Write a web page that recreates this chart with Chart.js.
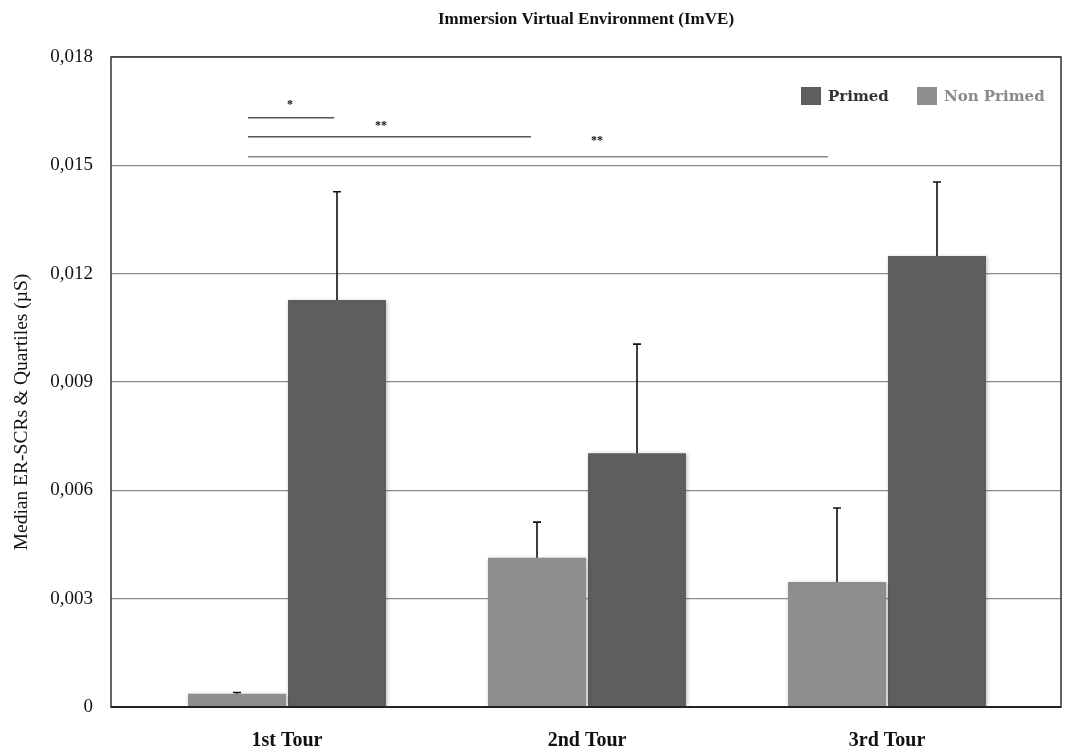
<!DOCTYPE html>
<html><head><meta charset="utf-8">
<script src="https://cdn.jsdelivr.net/npm/chart.js@4/dist/chart.umd.min.js"></script>
<style>html,body{margin:0;padding:0;background:#fff}canvas{display:block}</style>
</head><body>
<canvas id="c" width="1067" height="750"></canvas>
<script>
// ---- data ----
const categories = ['1st Tour', '2nd Tour', '3rd Tour'];
const seriesNames = ['Non Primed', 'Primed'];
const nonPrimed = [0.00037, 0.00413, 0.00346];
const nonPrimedUpper = [0.00040, 0.00512, 0.00551];
const primed = [0.01127, 0.00703, 0.01249];
const primedUpper = [0.01427, 0.01005, 0.01454];
const yTicks = [0, 0.003, 0.006, 0.009, 0.012, 0.015, 0.018];
const yTickLabels = ['0', '0,003', '0,006', '0,009', '0,012', '0,015', '0,018'];
const chartTitle = 'Immersion Virtual Environment (ImVE)';
const yTitle = 'Median ER-SCRs & Quartiles (µS)';
// significance brackets (x in category units, y in data units)
const sigFrom = [-0.13, -0.13, -0.13];
const sigTo = [0.157, 0.813, 1.803];
const sigY = [0.01632, 0.01579, 0.01524];
const sigLabel = ['*', '**', '**'];
const sigLabelX = [0.01, 0.313, 1.033];
const sigLabelY = [0.01667, 0.01609, 0.01567];

const COL_PRIMED = '#5e5e5e';
const COL_NON = '#8e8e8e';

const upperBounds = [nonPrimedUpper, primedUpper];

const extras = {
  id: 'extras',
  beforeDatasetsDraw(chart) {
    const ctx = chart.ctx;
    ctx.save();
    ctx.shadowColor = 'rgba(0,0,0,0.28)';
    ctx.shadowBlur = 4;
    ctx.shadowOffsetX = 1;
    ctx.shadowOffsetY = 1;
  },
  afterDatasetsDraw(chart) {
    const ctx = chart.ctx;
    ctx.restore();
    const ys = chart.scales.y;
    // error bars
    ctx.save();
    ctx.strokeStyle = '#111';
    ctx.lineWidth = 1.6;
    chart.data.datasets.forEach((ds, di) => {
      const meta = chart.getDatasetMeta(di);
      meta.data.forEach((bar, i) => {
        const top = ys.getPixelForValue(upperBounds[di][i]);
        ctx.beginPath();
        ctx.moveTo(bar.x, bar.y);
        ctx.lineTo(bar.x, top);
        ctx.moveTo(bar.x - 4, top);
        ctx.lineTo(bar.x + 4, top);
        ctx.stroke();
      });
    });
    ctx.restore();
  },
  afterDraw(chart) {
    const ctx = chart.ctx;
    const a = chart.chartArea;
    const ys = chart.scales.y, xs = chart.scales.x;
    ctx.save();
    // box border
    ctx.strokeStyle = '#333';
    ctx.lineWidth = 1.5;
    ctx.strokeRect(a.left, a.top, a.right - a.left, a.bottom - a.top);
    ctx.strokeStyle = '#222';
    ctx.lineWidth = 2;
    ctx.beginPath(); ctx.moveTo(a.left, a.bottom); ctx.lineTo(a.right, a.bottom); ctx.stroke();
    // significance brackets
    const sigColors = ['#555', '#555', '#888'];
    for (let k = 0; k < sigFrom.length; k++) {
      ctx.strokeStyle = sigColors[k];
      ctx.lineWidth = 1.5;
      const y = ys.getPixelForValue(sigY[k]);
      ctx.beginPath();
      ctx.moveTo(xs.getPixelForValue(sigFrom[k]), y);
      ctx.lineTo(xs.getPixelForValue(sigTo[k]), y);
      ctx.stroke();
      ctx.fillStyle = '#111';
      ctx.font = 'bold 12px "Liberation Serif"';
      ctx.textAlign = 'center';
      ctx.textBaseline = 'middle';
      ctx.fillText(sigLabel[k], xs.getPixelForValue(sigLabelX[k]), ys.getPixelForValue(sigLabelY[k]));
    }
    // title
    ctx.fillStyle = '#111';
    ctx.font = 'bold 17px "Liberation Serif"';
    ctx.textAlign = 'center';
    ctx.textBaseline = 'middle';
    ctx.fillText(chartTitle, (a.left + a.right) / 2, 20);
    // y title
    ctx.save();
    ctx.translate(22, 412);
    ctx.rotate(-Math.PI / 2);
    ctx.font = '19.5px "Liberation Serif"';
    ctx.fillStyle = '#111';
    ctx.fillText(yTitle, 0, 0);
    ctx.restore();
    // legend (Primed first, then Non Primed)
    ctx.font = 'bold 15px "DejaVu Serif"';
    ctx.textAlign = 'left';
    ctx.textBaseline = 'middle';
    const items = [
      {label: seriesNames[1], col: COL_PRIMED, text: '#333', x: 801},
      {label: seriesNames[0], col: COL_NON, text: '#8a8a8a', x: 917}
    ];
    items.forEach(it => {
      ctx.fillStyle = it.col;
      ctx.fillRect(it.x, 87, 20, 18);
      ctx.fillStyle = it.text;
      ctx.fillText(it.label, it.x + 27, 97);
    });
    ctx.restore();
  }
};

new Chart(document.getElementById('c'), {
  type: 'bar',
  data: {
    datasets: [
      { label: seriesNames[0], data: nonPrimed.map((v, i) => ({x: i, y: v})), backgroundColor: COL_NON,
        borderWidth: 0, categoryPercentage: 0.6667, barPercentage: 0.98 },
      { label: seriesNames[1], data: primed.map((v, i) => ({x: i, y: v})), backgroundColor: COL_PRIMED,
        borderWidth: 0, categoryPercentage: 0.6667, barPercentage: 0.98 }
    ]
  },
  options: {
    responsive: false,
    animation: false,
    devicePixelRatio: 1,
    layout: { padding: { top: 57, right: 6, left: 0, bottom: 0 } },
    plugins: { legend: { display: false }, title: { display: false }, tooltip: { enabled: false } },
    scales: {
      x: {
        type: 'linear',
        offset: false,
        min: -0.5867,
        max: 2.58,
        grid: { display: false, offset: false },
        border: { display: false },
        afterBuildTicks: s => { s.ticks = categories.map((c, i) => ({ value: i })); },
        afterFit: s => { s.height = 43; },
        ticks: {
          callback: v => categories[v],
          font: { family: 'Liberation Serif', size: 20, weight: 'bold' },
          color: '#111',
          padding: 14,
          maxRotation: 0,
          autoSkip: false
        }
      },
      y: {
        min: 0,
        max: 0.018,
        afterBuildTicks: s => { s.ticks = yTicks.map(v => ({ value: v })); },
        afterFit: s => { s.width = 111; },
        grid: { color: '#8c8c8c', lineWidth: 1.3, drawTicks: false },
        border: { display: false },
        ticks: {
          callback: (v, i) => yTickLabels[i],
          font: { family: 'Liberation Serif', size: 19 },
          color: '#111',
          padding: 18
        }
      }
    }
  },
  plugins: [extras]
});
</script>
</body></html>
